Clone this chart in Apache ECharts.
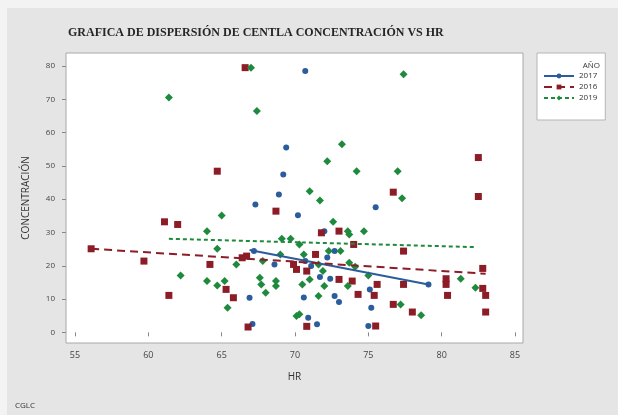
<!DOCTYPE html>
<html><head><meta charset="utf-8">
<script src="https://cdn.jsdelivr.net/npm/echarts@6/dist/echarts.min.js"></script>
<style>html,body{margin:0;padding:0;background:#f3f3f3}#c{width:618px;height:415px}</style>
</head><body><div id="c"></div>
<script>
const xTicks = [55, 60, 65, 70, 75, 80, 85];
const yTicks = [0, 10, 20, 30, 40, 50, 60, 70, 80];
const seriesNames = ['2017', '2016', '2019'];

const data2017 = [[70.7,78.5],[69.4,55.5],[69.2,47.4],[68.9,41.4],[67.3,38.4],[70.2,35.2],[75.5,37.6],[72.0,30.4],[67.2,24.4],[72.7,24.4],[72.2,22.5],[68.6,20.4],[70.7,21.4],[71.1,19.9],[71.7,16.6],[72.4,16.1],[66.9,10.4],[70.6,10.5],[72.7,10.9],[73.0,9.1],[75.1,12.9],[75.2,7.4],[79.1,14.4],[70.9,4.4],[71.5,2.4],[67.1,2.5],[75.0,1.9]];
const data2016 = [[66.6,79.5],[64.7,48.4],[68.7,36.4],[61.1,33.2],[62.0,32.4],[56.1,25.1],[59.7,21.4],[64.2,20.4],[61.4,11.1],[65.3,12.9],[65.8,10.4],[66.8,1.6],[66.4,22.4],[66.7,22.9],[69.9,20.4],[70.1,18.9],[70.8,18.4],[70.8,1.8],[76.7,42.1],[82.5,52.5],[82.5,40.8],[71.8,29.9],[73.0,30.4],[74.0,26.4],[77.4,24.4],[71.4,23.4],[73.0,15.9],[73.9,15.4],[75.6,14.4],[77.4,14.4],[80.3,16.1],[80.3,14.4],[80.4,11.1],[82.8,19.2],[82.8,13.2],[83.0,11.1],[83.0,6.1],[74.3,11.4],[75.4,11.1],[76.7,8.4],[78.0,6.1],[75.5,1.9]];
const data2019 = [[61.4,70.5],[67.0,79.5],[67.4,66.5],[71.0,42.4],[77.4,77.5],[73.2,56.5],[72.2,51.4],[74.2,48.4],[77.0,48.4],[77.3,40.3],[71.7,39.6],[65.0,35.1],[64.0,30.4],[64.7,25.1],[62.2,17.1],[64.0,15.4],[64.7,14.1],[65.2,15.4],[65.4,7.4],[66.0,20.4],[67.8,21.4],[69.0,23.4],[69.1,28.1],[69.7,28.1],[70.3,26.4],[70.6,23.4],[71.0,15.9],[70.5,14.4],[67.6,16.4],[67.7,14.4],[68.0,11.9],[68.7,15.4],[68.7,13.9],[70.1,4.9],[70.3,5.4],[71.6,10.9],[72.6,33.2],[73.6,30.4],[73.7,29.4],[74.7,30.4],[72.3,24.4],[73.1,24.4],[71.6,20.4],[71.9,18.4],[73.7,20.9],[74.1,19.7],[75.0,17.1],[73.6,13.9],[72.0,13.9],[77.2,8.4],[78.6,5.1],[81.3,16.1],[82.3,13.4]];

const trend2017 = [[66.9,24.7],[79.1,14.4]];
const trend2016 = [[56.1,25.1],[83.0,17.6]];
const trend2019 = [[61.4,28.1],[82.3,25.6]];

const C = {b:'#2b5c9c', r:'#8c1d27', g:'#1f8a3d'};
const chart = echarts.init(document.getElementById('c'), null, {renderer:'canvas'});
const lineSeries = (name, data, color, type, sym) => ({
  name, type:'line', data, showSymbol:false, symbol:sym, symbolSize:6, silent:true, z:3,
  itemStyle:{color}, lineStyle:{color, width:2, type}
});
const scat = (name, data, color, sym, size) => ({
  name, type:'scatter', data, symbol:sym, symbolSize:size, z:2,
  itemStyle:{color, opacity:1}
});
chart.setOption({
  animation:false,
  backgroundColor:'#f3f3f3',
  graphic:[{type:'rect', z:-10, shape:{x:7,y:8,width:611,height:407}, style:{fill:'#e5e5e5'}}],
  title:[
    {text:'GRAFICA DE DISPERSIÓN DE CENTLA CONCENTRACIÓN VS HR', left:63, top:22,
     textStyle:{fontFamily:'Liberation Serif', fontWeight:'bold', fontSize:12, color:'#262626'}},
    {text:'AÑO', right:13, top:57, textStyle:{fontFamily:'Open Sans', fontWeight:'normal', fontSize:8, color:'#333'}},
    {text:'CGLC', left:10, top:397, textStyle:{fontFamily:'Open Sans', fontWeight:'normal', fontSize:8, color:'#333'}}
  ],
  legend:{
    orient:'vertical', left:537, top:53, width:60,
    padding:[19,8,18,6], itemGap:3, itemWidth:30, itemHeight:6,
    backgroundColor:'#ffffff', borderColor:'#b5b5b5', borderWidth:1,
    data:seriesNames,
    textStyle:{fontFamily:'Open Sans', fontSize:8, color:'#333'}
  },
  grid:{left:66, right:95, top:53, bottom:72, show:true, backgroundColor:'#ffffff', borderColor:'#a8a8a8', borderWidth:1},
  xAxis:{
    type:'value', min:54.386, max:85.545,
    name:'HR', nameLocation:'middle', nameGap:29,
    nameTextStyle:{fontFamily:'Open Sans', fontSize:10, color:'#333'},
    axisLine:{show:false}, splitLine:{show:false},
    axisTick:{show:true, customValues:xTicks, length:4, lineStyle:{color:'#888'}},
    axisLabel:{customValues:xTicks, fontFamily:'Open Sans', fontSize:9, color:'#444', margin:8}
  },
  yAxis:{
    type:'value', min:-3.2, max:83.9,
    name:'CONCENTRACIÓN', nameLocation:'middle', nameGap:35,
    nameTextStyle:{fontFamily:'Open Sans', fontSize:10, color:'#333'},
    axisLine:{show:false}, splitLine:{show:false},
    axisTick:{show:true, customValues:yTicks, length:4, lineStyle:{color:'#888'}},
    axisLabel:{customValues:yTicks, fontFamily:'Open Sans', fontSize:8, color:'#444', margin:11}
  },
  series:[
    lineSeries('2017', trend2017, C.b, 'solid', 'circle'),
    lineSeries('2016', trend2016, C.r, [8,5], 'rect'),
    lineSeries('2019', trend2019, C.g, [4,3], 'diamond'),
    scat('2017', data2017, C.b, 'circle', 6),
    scat('2016', data2016, C.r, 'rect', 7),
    scat('2019', data2019, C.g, 'diamond', 8)
  ]
});
</script></body></html>
